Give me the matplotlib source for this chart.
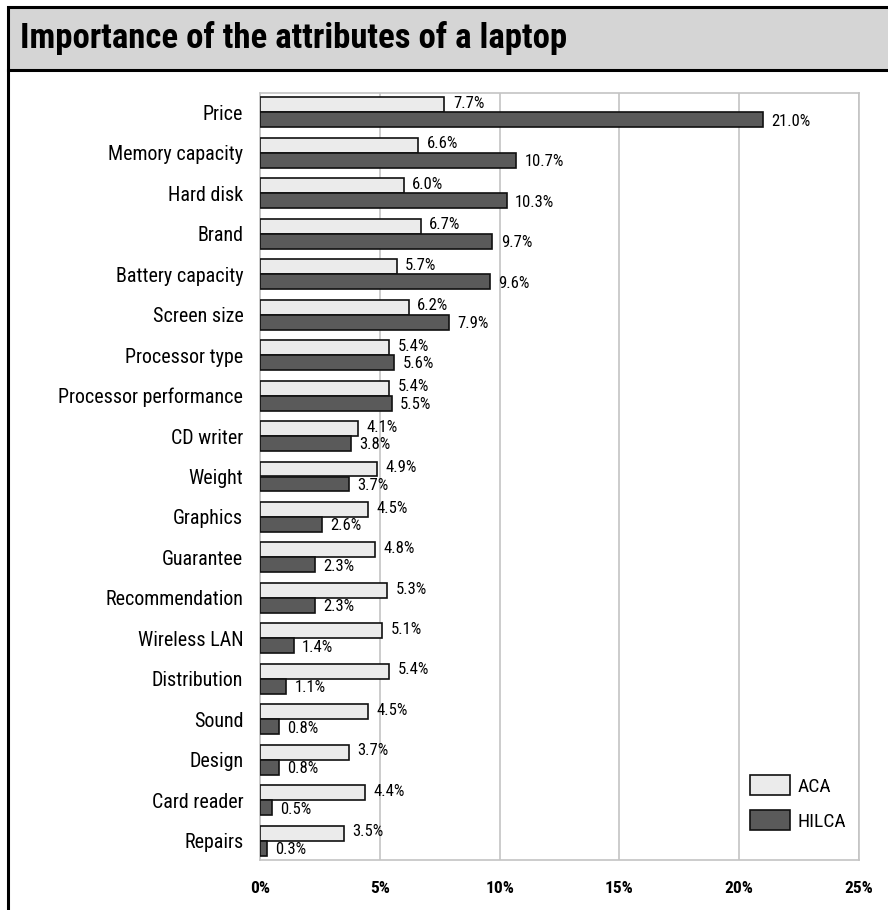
import matplotlib
matplotlib.use("Agg")
import matplotlib.pyplot as plt
import numpy as np
from matplotlib.patches import Rectangle
from matplotlib.lines import Line2D

plt.rcParams['font.family'] = ['Roboto Condensed', 'Archivo Narrow', 'PT Sans Narrow',
                               'Liberation Sans Narrow', 'DejaVu Sans']

categories = ["Price", "Memory capacity", "Hard disk", "Brand", "Battery capacity",
              "Screen size", "Processor type", "Processor performance", "CD writer",
              "Weight", "Graphics", "Guarantee", "Recommendation", "Wireless LAN",
              "Distribution", "Sound", "Design", "Card reader", "Repairs"]
aca = [7.7, 6.6, 6.0, 6.7, 5.7, 6.2, 5.4, 5.4, 4.1, 4.9, 4.5, 4.8, 5.3, 5.1, 5.4, 4.5, 3.7, 4.4, 3.5]
hilca = [21.0, 10.7, 10.3, 9.7, 9.6, 7.9, 5.6, 5.5, 3.8, 3.7, 2.6, 2.3, 2.3, 1.4, 1.1, 0.8, 0.8, 0.5, 0.3]
xticks = [0, 5, 10, 15, 20, 25]

W, H = 888, 910
fig = plt.figure(figsize=(W / 100, H / 100), dpi=100)

# title band and outer frame
fig.patches.append(Rectangle((8 / W, (H - 70) / H), 1.0, 63 / H, transform=fig.transFigure,
                             facecolor="#d5d5d5", edgecolor="black", linewidth=2.2))
fig.lines.append(Line2D([8 / W, 8 / W], [0, (H - 70) / H], transform=fig.transFigure,
                        color="black", linewidth=2.2))
fig.text(20 / W, (H - 38) / H, "Importance of the attributes of a laptop",
         fontsize=25, fontweight="heavy", va="center", ha="left")

ax = fig.add_axes([260 / W, (H - 860) / H, 599 / W, 767 / H])

y = np.arange(len(categories))
h = 0.37
ax.barh(y - h / 2, aca, height=h, color="#ebebeb", edgecolor="#111111", linewidth=1.2,
        label="ACA", zorder=3)
ax.barh(y + h / 2, hilca, height=h, color="#5a5a5a", edgecolor="#111111", linewidth=1.2,
        label="HILCA", zorder=3)

for i in range(len(categories)):
    ax.annotate(f"{aca[i]:.1f}%", (aca[i], y[i] - h / 2), xytext=(6, 1),
                textcoords="offset points", va="center", ha="left", fontsize=12)
    ax.annotate(f"{hilca[i]:.1f}%", (hilca[i], y[i] + h / 2), xytext=(6, -1),
                textcoords="offset points", va="center", ha="left", fontsize=12)

ax.set_xlim(0, 25)
ax.set_ylim(len(categories) - 1 + 0.475, -0.475)
ax.set_yticks(y)
ax.set_yticklabels(categories, fontsize=14.4)
ax.set_xticks(xticks)
ax.set_xticklabels([f"{t}%" for t in xticks], fontsize=12.5, fontweight="bold")
ax.tick_params(axis="x", length=0, pad=15)
ax.tick_params(axis="y", length=0, pad=12)
ax.grid(axis="x", color="#c4c4c4", linewidth=1.2, zorder=0)
for s in ax.spines.values():
    s.set_color("#c4c4c4")
    s.set_linewidth(1.2)

ax.legend(loc="upper left", bbox_to_anchor=(750 / W, (H - 775) / H),
          bbox_transform=fig.transFigure, frameon=False, fontsize=14,
          handlelength=2.05, handleheight=1.2, labelspacing=0.75,
          handletextpad=0.4, borderpad=0, borderaxespad=0)

fig.savefig("out.png", dpi=100)
